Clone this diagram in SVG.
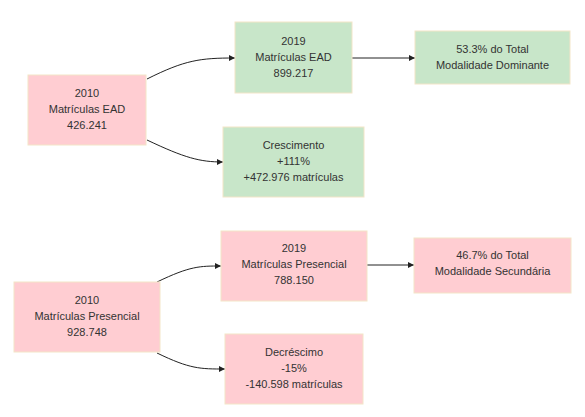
<svg xmlns="http://www.w3.org/2000/svg" width="585" height="417" viewBox="0 0 585 417">
<defs>
<style>
.pink{fill:#ffcdd2;stroke:#f3e5c8;stroke-width:1}
.green{fill:#c8e6c9;stroke:#f3e5c8;stroke-width:1}
text{font-family:"Liberation Sans",Arial,sans-serif;font-size:11px;fill:#333;text-anchor:middle}
.edge{fill:none;stroke:#222;stroke-width:1;marker-end:url(#arr)}
</style>
<marker id="arr" viewBox="0 0 10 10" refX="10" refY="5" markerWidth="6" markerHeight="6" markerUnits="userSpaceOnUse" orient="auto">
<path d="M0,0 L10,5 L0,10 z" fill="#222"/>
</marker>
</defs>
<rect width="585" height="417" fill="#fff"/>
<g id="connectors">
<path class="edge" d="M147,79 C185,60 200,58 235,58"/>
<path class="edge" d="M147,140 C185,158 200,162 223,162"/>
<path class="edge" d="M352,58 L415,58"/>
<path class="edge" d="M157,282 C190,266 200,266 221,266"/>
<path class="edge" d="M157,353 C190,369 200,369 225,369"/>
<path class="edge" d="M367,265 L414,265"/>
</g>
<g id="ead2010">
<rect class="pink" x="28" y="75" width="118" height="70"/>
<text x="87" y="97">2010</text>
<text x="87" y="113">Matrículas EAD</text>
<text x="87" y="129">426.241</text>
</g>
<g id="ead2019">
<rect class="green" x="235" y="22" width="117" height="71"/>
<text x="293.5" y="45">2019</text>
<text x="293.5" y="61">Matrículas EAD</text>
<text x="293.5" y="77">899.217</text>
</g>
<g id="crescimento">
<rect class="green" x="223" y="127" width="141" height="70"/>
<text x="293.5" y="149">Crescimento</text>
<text x="293.5" y="165">+111%</text>
<text x="293.5" y="181">+472.976 matrículas</text>
</g>
<g id="dominante">
<rect class="green" x="415" y="31" width="155" height="53"/>
<text x="492.5" y="53">53.3% do Total</text>
<text x="492.5" y="69">Modalidade Dominante</text>
</g>
<g id="pres2010">
<rect class="pink" x="14" y="282" width="146" height="70"/>
<text x="87" y="304">2010</text>
<text x="87" y="320">Matrículas Presencial</text>
<text x="87" y="336">928.748</text>
</g>
<g id="pres2019">
<rect class="pink" x="221" y="231" width="146" height="70"/>
<text x="294" y="252">2019</text>
<text x="294" y="268">Matrículas Presencial</text>
<text x="294" y="284">788.150</text>
</g>
<g id="decrescimo">
<rect class="pink" x="225" y="334" width="138" height="70"/>
<text x="294" y="356">Decréscimo</text>
<text x="294" y="372">-15%</text>
<text x="294" y="388">-140.598 matrículas</text>
</g>
<g id="secundaria">
<rect class="pink" x="414" y="238" width="157" height="55"/>
<text x="492.5" y="259">46.7% do Total</text>
<text x="492.5" y="275">Modalidade Secundária</text>
</g>
</svg>
